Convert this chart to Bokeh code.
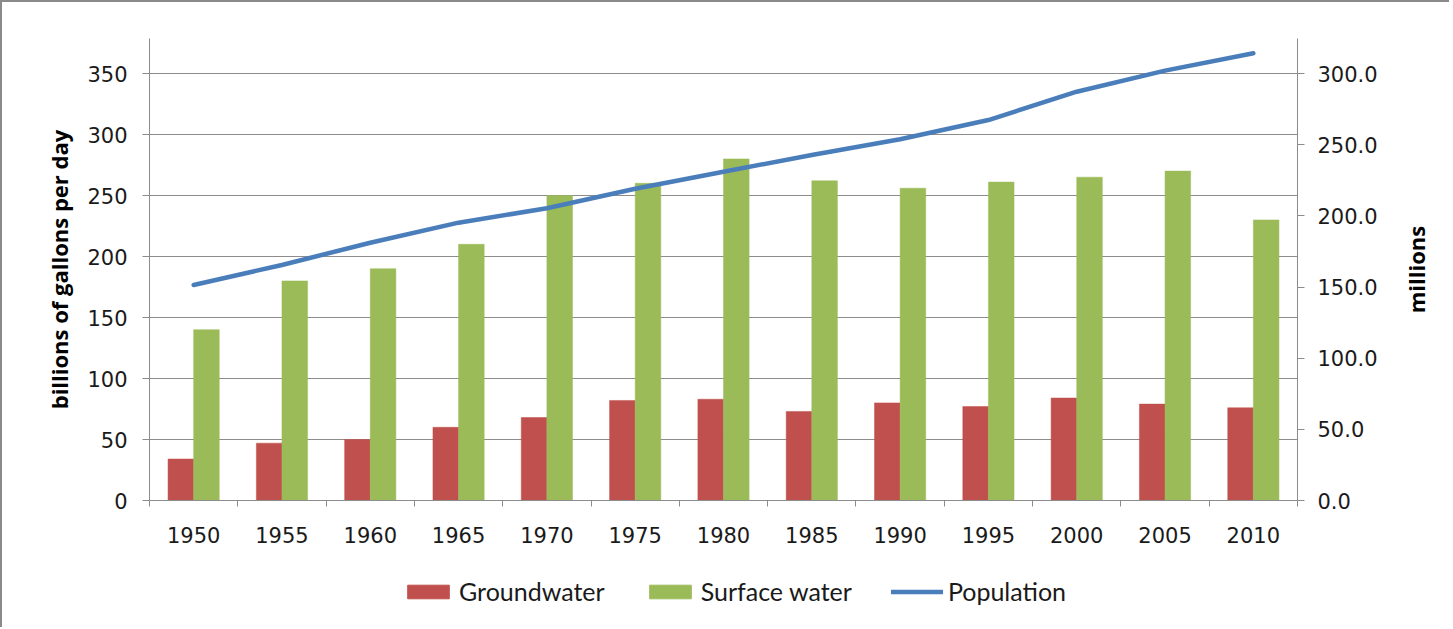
import numpy as np
from bokeh.plotting import figure
from bokeh.layouts import column, row
from bokeh.models import (Range1d, LinearAxis, FixedTicker, Legend, LegendItem,
                          ColumnDataSource, NumeralTickFormatter)
from bokeh.transform import dodge
from bokeh.embed import file_html
from bokeh.resources import INLINE

years = ["1950", "1955", "1960", "1965", "1970", "1975", "1980",
         "1985", "1990", "1995", "2000", "2005", "2010"]
groundwater = [34, 47, 50, 60, 68, 82, 83, 73, 80, 77, 84, 79, 76]
surface_water = [140, 180, 190, 210, 250, 260, 280, 262, 256, 261, 265, 270, 230]
population = [151.4, 165.5, 181.1, 195.2, 205.3, 219.0, 231.0, 242.7, 253.8,
              267.3, 287.2, 302.0, 314.2]
left_ticks = [0, 50, 100, 150, 200, 250, 300, 350]
right_ticks = [0, 50, 100, 150, 200, 250, 300]
series_names = ["Groundwater", "Surface water", "Population"]

RED = "#C0504D"
GREEN = "#9BBB59"
BLUE = "#4A7EBB"
GRAY = "#8C8C8C"
TXT = "#1a1a1a"

n = len(years)
centers = np.arange(n) + 0.5
src = ColumnDataSource(dict(x=centers, gw=groundwater, sw=surface_water,
                            pop=population, year=years))

p = figure(width=1395, height=548, output_backend="svg", toolbar_location=None,
           x_range=Range1d(0, n), y_range=Range1d(0, 378.7),
           min_border_left=147, min_border_right=100, min_border_top=36,
           min_border_bottom=50, background_fill_color="white",
           border_fill_color="white")
p.outline_line_color = None
p.extra_y_ranges = {"pop": Range1d(0, 324.6)}

bw = 0.29
p.vbar(x=dodge("x", -bw / 2, range=p.x_range), top="gw", width=bw,
       source=src, fill_color=RED, line_color=RED, line_width=0.5)
p.vbar(x=dodge("x", bw / 2, range=p.x_range), top="sw", width=bw,
       source=src, fill_color=GREEN, line_color=GREEN, line_width=0.5)
p.line(x="x", y="pop", source=src, y_range_name="pop",
       line_color=BLUE, line_width=4.5, line_cap="round")

# x axis
xax = p.xaxis[0]
xax.ticker = FixedTicker(ticks=list(centers), minor_ticks=list(range(n + 1)))
xax.major_label_overrides = {float(c): y for c, y in zip(centers, years)}
xax.major_tick_line_color = None
xax.minor_tick_line_color = GRAY
xax.minor_tick_out = 6
xax.minor_tick_in = 0
xax.axis_line_color = GRAY
xax.major_label_text_font = "DejaVu Sans"
xax.major_label_text_font_size = "21px"
xax.major_label_text_color = TXT
xax.major_label_standoff = 20

# left axis
yax = p.yaxis[0]
yax.ticker = FixedTicker(ticks=left_ticks)
yax.axis_line_color = GRAY
yax.major_tick_line_color = GRAY
yax.major_tick_out = 7
yax.major_tick_in = 0
yax.minor_tick_line_color = None
yax.major_label_text_font = "DejaVu Sans"
yax.major_label_text_font_size = "21px"
yax.major_label_text_color = TXT
yax.major_label_standoff = 15
yax.axis_label = "billions of gallons per day"
yax.axis_label_text_font = "Open Sans"
yax.axis_label_text_font_style = "bold"
yax.axis_label_text_font_size = "22px"
yax.axis_label_text_color = "black"
yax.axis_label_standoff = 10

# right axis (tick labels only; its title is drawn in the side strip)
rax = LinearAxis(y_range_name="pop", ticker=FixedTicker(ticks=right_ticks),
                 formatter=NumeralTickFormatter(format="0.0"))
rax.axis_line_color = GRAY
rax.major_tick_line_color = GRAY
rax.major_tick_out = 7
rax.major_tick_in = 0
rax.minor_tick_line_color = None
rax.major_label_text_font = "DejaVu Sans"
rax.major_label_text_font_size = "21px"
rax.major_label_text_color = TXT
rax.major_label_standoff = 13
p.add_layout(rax, "right")

p.xgrid.grid_line_color = None
p.ygrid.ticker = FixedTicker(ticks=left_ticks[1:])
p.ygrid.grid_line_color = GRAY
p.ygrid.grid_line_width = 1

# legend strip (separate figure so it is not clipped by the plot frame)
lg = figure(width=1395, height=77, output_backend="svg", toolbar_location=None,
            x_range=Range1d(0, 1), y_range=Range1d(0, 1),
            x_axis_location=None, y_axis_location=None,
            min_border=0, border_fill_color="white", background_fill_color="white")
lg.outline_line_color = None
lg.grid.visible = False
proxy = ColumnDataSource(dict(x=[np.nan], top=[np.nan], y=[np.nan]))
lr1 = lg.vbar(x="x", top="top", width=0.1, source=proxy, fill_color=RED, line_color=RED)
lr2 = lg.vbar(x="x", top="top", width=0.1, source=proxy, fill_color=GREEN, line_color=GREEN)
lr3 = lg.line(x="x", y="y", source=proxy, line_color=BLUE, line_width=4.5, line_cap="round")

legend = Legend(items=[LegendItem(label=series_names[0], renderers=[lr1]),
                       LegendItem(label=series_names[1], renderers=[lr2]),
                       LegendItem(label=series_names[2], renderers=[lr3])],
                orientation="horizontal", location=(253, 21),
                glyph_width=52, glyph_height=17, label_standoff=5, spacing=39,
                padding=0, margin=0, border_line_color=None,
                background_fill_alpha=0,
                label_text_font="Lato", label_text_font_size="25px",
                label_text_color=TXT)
lg.add_layout(legend, "center")

# side strip carrying the right-hand axis title, reading bottom to top
side = figure(width=52, height=625, output_backend="svg", toolbar_location=None,
              x_range=Range1d(0, 1), y_range=Range1d(0, 324.6),
              x_axis_location=None, y_axis_location="left",
              min_border_left=10, min_border_right=0, min_border_top=36,
              min_border_bottom=127, border_fill_color="white",
              background_fill_color="white")
side.outline_line_color = None
side.grid.visible = False
sax = side.yaxis[0]
sax.ticker = FixedTicker(ticks=[])
sax.axis_line_color = None
sax.major_tick_line_color = None
sax.minor_tick_line_color = None
sax.major_tick_out = 0
sax.major_label_standoff = 0
sax.axis_label = "millions"
sax.axis_label_text_font = "Open Sans"
sax.axis_label_text_font_style = "bold"
sax.axis_label_text_font_size = "22px"
sax.axis_label_text_color = "black"
sax.axis_label_standoff = 0

layout = row(column(p, lg, spacing=0), side, spacing=0)
layout.styles = {"border-top": "2px solid #8a8a8a", "border-left": "2px solid #8a8a8a"}

open("out.html", "w").write(file_html(layout, INLINE))
